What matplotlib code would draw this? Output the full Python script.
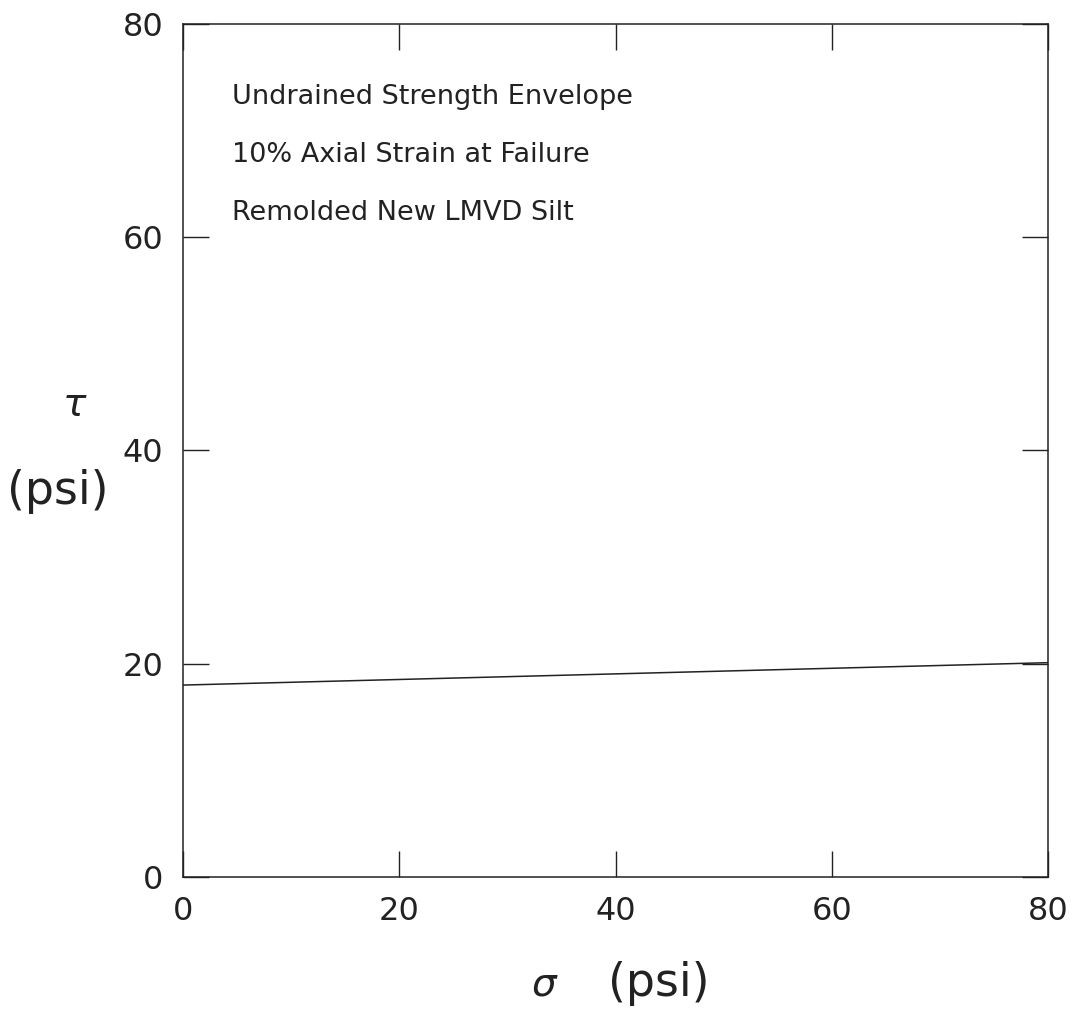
import matplotlib
matplotlib.use('Agg')
import matplotlib.pyplot as plt

# envelope end points
sigma = [0, 80]
tau = [18.0, 20.1]
ticks = [0, 20, 40, 60, 80]
notes = ['Undrained Strength Envelope',
         '10% Axial Strain at Failure',
         'Remolded New LMVD Silt']

plt.rcParams['font.family'] = ['DejaVu Sans']
plt.rcParams['mathtext.fontset'] = 'dejavusans'
ink = '#222222'

fig = plt.figure(figsize=(10.8, 10.17), dpi=100)
ax = fig.add_axes([183 / 1080, 1 - 877 / 1017, 865 / 1080, 853 / 1017])

ax.plot(sigma, tau, color=ink, lw=1.1)

ax.set_xlim(0, 80)
ax.set_ylim(0, 80)
ax.set_xticks(ticks)
ax.set_yticks(ticks)
ax.tick_params(direction='in', length=19, width=1.0, top=True, right=True,
               labelsize=23, pad=14, colors=ink)
for s in ax.spines.values():
    s.set_linewidth(1.1)
    s.set_color(ink)

for i, t in enumerate(notes):
    ax.text(0.057, 0.915 - i * 0.068, t, transform=ax.transAxes,
            fontsize=19.5, va='center', ha='left', color=ink)

fig.text(75 / 1080, 1 - 405 / 1017, r'$\tau$', fontsize=28, ha='center', va='center', color=ink)
fig.text(58 / 1080, 1 - 492 / 1017, '(psi)', fontsize=33, ha='center', va='center', color=ink)
fig.text(545 / 1080, 1 - 985 / 1017, r'$\sigma$', fontsize=28, ha='center', va='center', color=ink)
fig.text(659 / 1080, 1 - 983 / 1017, '(psi)', fontsize=33, ha='center', va='center', color=ink)

fig.savefig('out.png', dpi=100)
